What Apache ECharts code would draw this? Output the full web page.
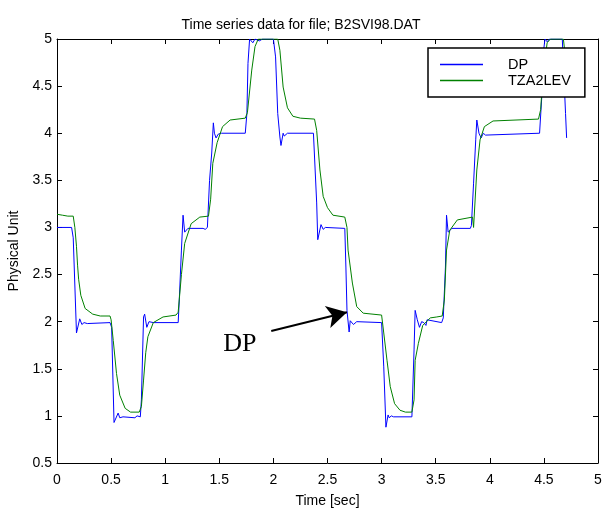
<!DOCTYPE html>
<html>
<head>
<meta charset="utf-8">
<script src="https://cdn.jsdelivr.net/npm/echarts@6/dist/echarts.min.js"></script>
<style>html,body{margin:0;padding:0;background:#fff}#c{width:602px;height:510px}</style>
</head>
<body>
<div id="c"></div>
<script>
var titleText = 'Time series data for file; B2SVI98.DAT';
var seriesNames = ['DP', 'TZA2LEV'];
var xTicks = [0, 0.5, 1, 1.5, 2, 2.5, 3, 3.5, 4, 4.5, 5];
var yTicks = [0.5, 1, 1.5, 2, 2.5, 3, 3.5, 4, 4.5, 5];

var dpTime = [0,0.135,0.15,0.18,0.185,0.21,0.23,0.25,0.28,0.49,0.505,0.527,0.545,0.565,0.58,0.61,0.72,0.74,0.77,0.78,0.80,0.81,0.83,0.85,0.89,1.12,1.13,1.15,1.165,1.18,1.21,1.35,1.37,1.39,1.41,1.43,1.445,1.455,1.47,1.49,1.50,1.52,1.74,1.755,1.765,1.78,1.81,1.83,1.87,1.90,2.00,2.02,2.04,2.06,2.07,2.09,2.10,2.13,2.37,2.40,2.41,2.44,2.46,2.48,2.66,2.67,2.68,2.70,2.71,2.74,2.77,3.00,3.02,3.04,3.06,3.07,3.09,3.11,3.28,3.29,3.30,3.31,3.33,3.35,3.37,3.39,3.41,3.42,3.555,3.57,3.59,3.60,3.615,3.65,3.82,3.83,3.84,3.85,3.87,3.88,3.90,3.92,3.94,3.96,4.46,4.48,4.49,4.51,4.53,4.55,4.67,4.68,4.70,4.71];
var dpValue = [3.0,3.0,2.89,1.88,1.86,2.03,1.97,1.99,1.98,1.99,1.94,0.93,0.93,1.03,0.98,0.99,0.98,1.0,0.99,1.17,2.05,2.08,1.94,2.0,1.99,1.99,2.23,2.76,3.13,2.95,2.99,2.99,2.98,3.0,3.5,3.79,4.11,4.0,3.95,3.99,3.97,4.0,4.0,4.21,4.74,5.0,4.96,5.0,4.98,5.0,5.0,4.81,4.21,3.96,3.87,4.0,3.97,4.0,4.0,3.26,2.87,3.03,2.98,3.0,2.99,2.58,2.12,1.89,2.01,1.97,2.0,1.99,1.52,0.88,1.01,0.98,1.0,0.99,0.99,1.01,1.70,2.12,2.02,1.94,2.0,1.99,1.96,2.02,1.99,2.04,2.58,3.13,2.95,2.99,2.99,3.02,3.0,3.47,3.93,4.14,4.0,3.95,4.0,3.98,4.0,4.38,4.81,5.0,4.97,5.0,5.0,4.74,4.21,3.95];

var tzTime = [0,0.05,0.10,0.15,0.165,0.18,0.19,0.20,0.22,0.26,0.33,0.40,0.49,0.50,0.52,0.55,0.58,0.63,0.68,0.76,0.78,0.80,0.82,0.84,0.89,0.98,1.10,1.12,1.15,1.18,1.24,1.32,1.40,1.42,1.44,1.48,1.53,1.60,1.74,1.76,1.80,1.83,1.86,2.04,2.06,2.09,2.13,2.18,2.25,2.38,2.40,2.43,2.46,2.50,2.55,2.66,2.68,2.69,2.73,2.77,2.83,3.00,3.02,3.05,3.08,3.12,3.17,3.22,3.28,3.30,3.31,3.34,3.38,3.45,3.51,3.56,3.58,3.60,3.63,3.70,3.84,3.85,3.88,3.91,3.95,4.03,4.45,4.47,4.49,4.53,4.56,4.68,4.71];
var tzValue = [3.14,3.13,3.12,3.12,3.0,2.8,2.6,2.45,2.28,2.14,2.08,2.06,2.06,2.02,1.80,1.45,1.22,1.08,1.04,1.04,1.10,1.38,1.67,1.84,1.99,2.05,2.07,2.10,2.50,2.83,3.04,3.11,3.12,3.30,3.68,3.90,4.07,4.14,4.16,4.22,4.67,4.92,5.0,5.0,4.88,4.49,4.27,4.18,4.16,4.15,4.03,3.61,3.33,3.21,3.13,3.11,3.0,2.76,2.41,2.16,2.09,2.07,1.88,1.59,1.31,1.13,1.06,1.04,1.04,1.17,1.59,1.77,1.96,2.04,2.05,2.06,2.23,2.76,2.97,3.08,3.11,3.0,3.61,3.93,4.07,4.13,4.15,4.25,4.60,4.96,5.0,5.0,4.70];

var annotText = 'DP';
var annotTextPos = [1.69, 1.76];
var arrowFrom = [1.98, 1.90];
var arrowTo = [2.68, 2.10];

function pairs(t, v) { return t.map(function (x, i) { return [x, v[i]]; }); }

var chart = echarts.init(document.getElementById('c'), null, {renderer: 'canvas'});
var font = 'Liberation Sans, Arial, sans-serif';
var axisCommon = {
  axisLine: {show: true, onZero: false, lineStyle: {color: '#000', width: 1}},
  axisTick: {show: true, inside: true, length: 5, lineStyle: {color: '#000'}},
  splitLine: {show: false},
  interval: 0.5
};
chart.setOption({
  animation: false,
  backgroundColor: '#fff',
  title: {
    text: titleText, left: 'center', top: 13,
    textStyle: {fontFamily: font, fontSize: 14, fontWeight: 'normal', color: '#000'}
  },
  grid: {left: 57, right: 4, top: 39, bottom: 47, containLabel: false, outerBoundsMode: 'none'},
  legend: {
    data: seriesNames, orient: 'vertical', left: 428, top: 48,
    padding: [9, 14, 9, 12], itemGap: 1,
    itemWidth: 43, itemHeight: 1.5, icon: 'rect',
    backgroundColor: '#fff', borderColor: '#000', borderWidth: 1.5,
    textStyle: {fontFamily: font, fontSize: 14.5, color: '#000', padding: [0, 0, 0, 20]}
  },
  xAxis: [
    Object.assign({}, axisCommon, {
      type: 'value', position: 'bottom', min: xTicks[0], max: xTicks[xTicks.length - 1],
      name: 'Time [sec]', nameLocation: 'middle', nameGap: 31,
      nameTextStyle: {fontFamily: font, fontSize: 14, color: '#000'},
      axisLabel: {show: true, margin: 10, fontFamily: font, fontSize: 14, color: '#000'}
    }),
    Object.assign({}, axisCommon, {
      type: 'value', position: 'top', min: xTicks[0], max: xTicks[xTicks.length - 1],
      axisLabel: {show: false}
    })
  ],
  yAxis: [
    Object.assign({}, axisCommon, {
      type: 'value', position: 'left', min: yTicks[0], max: yTicks[yTicks.length - 1],
      name: 'Physical Unit', nameLocation: 'middle', nameGap: 34, nameRotate: 90,
      nameTextStyle: {fontFamily: font, fontSize: 14, color: '#000'},
      axisLabel: {show: true, margin: 5, fontFamily: font, fontSize: 14, color: '#000'}
    }),
    Object.assign({}, axisCommon, {
      type: 'value', position: 'right', min: yTicks[0], max: yTicks[yTicks.length - 1],
      axisLabel: {show: false}
    })
  ],
  series: [
    {
      name: seriesNames[0], type: 'line', data: pairs(dpTime, dpValue),
      showSymbol: false, symbol: 'none', clip: true,
      lineStyle: {color: '#0000ff', width: 1}, itemStyle: {color: '#0000ff'},
      markLine: {
        silent: true, animation: false,
        symbol: ['none', 'arrow'], symbolSize: [17, 20],
        lineStyle: {color: '#000', width: 2, type: 'solid'},
        label: {show: false},
        data: [[{coord: arrowFrom}, {coord: arrowTo}]]
      },
      markPoint: {
        silent: true, symbol: 'circle', symbolSize: 0,
        label: {show: true, formatter: annotText, fontFamily: 'Liberation Serif, Times New Roman, serif', fontSize: 26, color: '#000'},
        data: [{coord: annotTextPos}]
      }
    },
    {
      name: seriesNames[1], type: 'line', data: pairs(tzTime, tzValue),
      showSymbol: false, symbol: 'none', clip: true,
      lineStyle: {color: '#008000', width: 1}, itemStyle: {color: '#008000'}
    }
  ]
});
</script>
</body>
</html>
